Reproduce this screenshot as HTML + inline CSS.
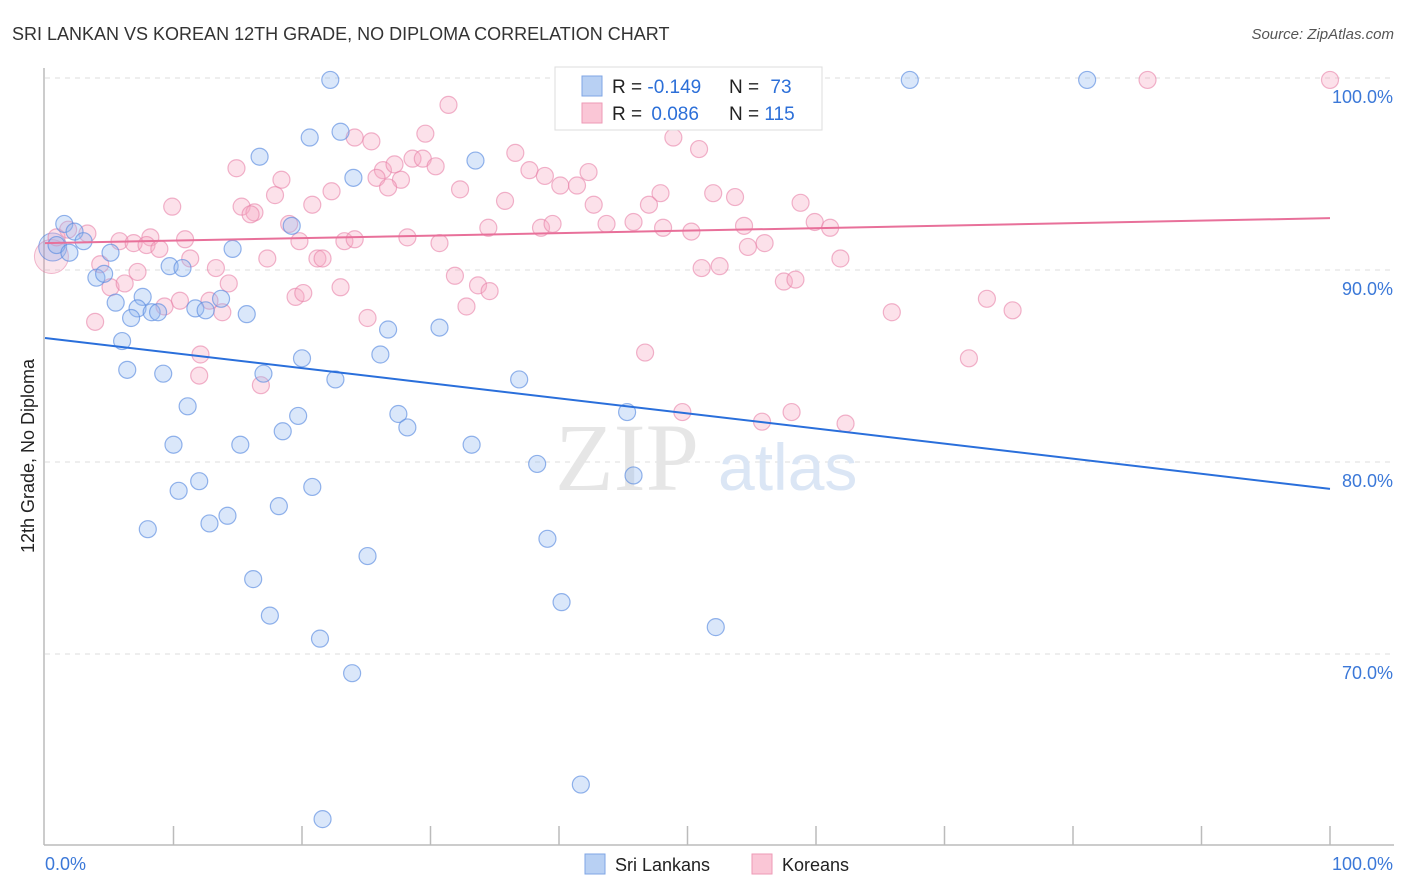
<!DOCTYPE html>
<html><head><meta charset="utf-8">
<style>
body{margin:0;background:#fff;font-family:"Liberation Sans",sans-serif;}
svg{display:block}
</style></head>
<body>
<svg id="chart" width="1406" height="892" xmlns="http://www.w3.org/2000/svg">
<text x="12" y="40" font-size="18" fill="#333">SRI LANKAN VS KOREAN 12TH GRADE, NO DIPLOMA CORRELATION CHART</text>
<text x="1394" y="39" font-size="15" fill="#555" font-style="italic" text-anchor="end">Source: ZipAtlas.com</text>
<g id="grid"></g>
<g id="axes"></g>
<text x="555" y="490" font-size="96" fill="#e6e6e6" font-family="Liberation Serif,serif">ZIP</text>
<text x="718" y="490" font-size="66" fill="#dbe6f5">atlas</text>
<g id="marks"></g>
<g id="trends"></g>
<text transform="translate(34,456) rotate(-90)" font-size="18" fill="#222" text-anchor="middle">12th Grade, No Diploma</text>
<g>
<rect x="555" y="67" width="267" height="63" fill="#fff" stroke="#ddd"/>
<rect x="582" y="76" width="20" height="20" fill="#b8d0f3" stroke="#7fa6e4"/>
<rect x="582" y="103" width="20" height="20" fill="#fac6d6" stroke="#ee9ab6"/>
<text x="612" y="93" font-size="19" fill="#222">R = <tspan fill="#2c6fd8">-0.149</tspan></text>
<text x="729" y="93" font-size="19" fill="#222">N = <tspan fill="#2c6fd8" dx="6">73</tspan></text>
<text x="612" y="120" font-size="19" fill="#222">R = <tspan fill="#2c6fd8" dx="4">0.086</tspan></text>
<text x="729" y="120" font-size="19" fill="#222">N = <tspan fill="#2c6fd8">115</tspan></text>
</g>
<g>
<rect x="585" y="854" width="20" height="20" fill="#b8d0f3" stroke="#7fa6e4"/>
<text x="615" y="871" font-size="18" fill="#222">Sri Lankans</text>
<rect x="752" y="854" width="20" height="20" fill="#fac6d6" stroke="#ee9ab6"/>
<text x="782" y="871" font-size="18" fill="#222">Koreans</text>
</g>
</svg>
<script>
const yTicks=[100,90,80,70];
const yTickLabels=["100.0%","90.0%","80.0%","70.0%"];
const xTickLabels=["0.0%","100.0%"];
const blueX=[22.2,67.3,81.1,20.6,23.0,33.5,16.7,24.0,1.5,2.3,0.9,3.0,1.9,5.1,4.0,4.6,9.7,10.7,14.6,19.2,7.6,5.5,7.2,6.7,8.3,8.8,11.7,12.5,13.7,15.7,26.7,30.7,6.0,6.4,9.2,17.0,20.0,22.6,26.1,36.9,11.1,19.7,27.5,28.2,18.5,10.0,15.2,33.2,45.3,38.3,45.8,12.0,10.4,20.8,12.8,14.2,18.2,8.0,25.1,39.1,16.2,17.5,21.4,40.2,52.2,23.9,41.7,21.6];
const blueY=[99.9,99.9,99.9,96.9,97.2,95.7,95.9,94.8,92.4,92.0,91.3,91.5,90.9,90.9,89.6,89.8,90.2,90.1,91.1,92.3,88.6,88.3,88.0,87.5,87.8,87.8,88.0,87.9,88.5,87.7,86.9,87.0,86.3,84.8,84.6,84.6,85.4,84.3,85.6,84.3,82.9,82.4,82.5,81.8,81.6,80.9,80.9,80.9,82.6,79.9,79.3,79.0,78.5,78.7,76.8,77.2,77.7,76.5,75.1,76.0,73.9,72.0,70.8,72.7,71.4,69.0,63.2,61.4];
const pinkX=[40.7,85.8,100,31.4,24.1,29.6,25.4,48.9,50.9,36.6,14.9,26.3,27.2,28.6,29.4,30.4,25.8,27.7,18.4,26.7,22.3,32.3,37.7,38.9,40.1,41.4,42.3,47.9,52.0,53.7,17.9,15.3,16.3,16.0,20.8,35.8,42.7,47.0,58.8,9.9,19.0,34.5,38.6,39.5,43.7,45.8,48.1,50.3,54.4,59.9,61.1,1.8,3.3,0.9,8.2,5.8,6.9,7.9,8.9,10.9,19.8,23.3,24.1,28.2,30.7,54.7,56.0,11.3,17.3,21.2,21.6,4.3,7.2,13.3,31.9,33.7,34.6,5.1,6.2,14.3,23.0,19.5,20.1,51.1,52.5,61.9,57.5,58.4,10.5,12.8,9.3,13.8,25.1,32.8,3.9,65.9,73.3,75.3,46.7,12.1,12.0,16.8,49.6,58.1,55.8,62.3,71.9];
const pinkY=[99.9,99.9,99.9,98.6,96.9,97.1,96.7,96.9,96.3,96.1,95.3,95.2,95.5,95.8,95.8,95.4,94.8,94.7,94.7,94.3,94.1,94.2,95.2,94.9,94.4,94.4,95.1,94.0,94.0,93.8,93.9,93.3,93.0,92.9,93.4,93.6,93.4,93.4,93.5,93.3,92.4,92.2,92.2,92.4,92.4,92.5,92.2,92.0,92.3,92.5,92.2,92.1,91.9,91.7,91.7,91.5,91.4,91.3,91.1,91.6,91.5,91.5,91.6,91.7,91.4,91.2,91.4,90.6,90.6,90.6,90.6,90.3,89.9,90.1,89.7,89.2,88.9,89.1,89.3,89.3,89.1,88.6,88.8,90.1,90.2,90.6,89.4,89.5,88.4,88.4,88.1,87.8,87.5,88.1,87.3,87.8,88.5,87.9,85.7,85.6,84.5,84.0,82.6,82.6,82.1,82.0,85.4];
const blueTrend=[86.46,78.6];
const pinkTrend=[91.4,92.7];

const NS="http://www.w3.org/2000/svg";
const X0=45,X1=1330;
function xs(v){return X0+(v/100)*(X1-X0);}
function ys(v){return 78+(100-v)*19.2;}
function mk(tag,attrs,parent){const e=document.createElementNS(NS,tag);for(const k in attrs)e.setAttribute(k,attrs[k]);parent.appendChild(e);return e;}
const grid=document.getElementById('grid'),axes=document.getElementById('axes'),marks=document.getElementById('marks'),trends=document.getElementById('trends');
yTicks.forEach((t,i)=>{
  const l=mk('line',{x1:45,x2:1394,y1:ys(t),y2:ys(t),stroke:'#dcdcdc','stroke-dasharray':'5,5'},grid);
  
  
  const tx=mk('text',{x:1393,y:ys(t)+25,'font-size':18,fill:'#3b78d8','text-anchor':'end'},grid);
  tx.textContent=yTickLabels[i];
  
  
});
const ax=mk('line',{x1:44,x2:1394,y1:845,y2:845,stroke:'#bbb','stroke-width':1.5},axes);


const ay=mk('line',{x1:44,x2:44,y1:68,y2:845,stroke:'#bbb','stroke-width':1.5},axes);


for(let i=1;i<=10;i++){
  const t=mk('line',{x1:xs(i*10),x2:xs(i*10),y1:826,y2:845,stroke:'#bbb','stroke-width':1.5},axes);
  
  
}
[[0,'start',45],[100,'end',1393]].forEach((d,i)=>{
  const t=mk('text',{x:d[2],y:870,'font-size':18,fill:'#3b78d8','text-anchor':d[1]},axes);
  t.textContent=xTickLabels[i];
  
  
});
// big cluster circles
const bp=mk('circle',{cx:xs(0.5),cy:ys(90.7),r:17,fill:'rgba(240,150,180,0.25)',stroke:'rgba(230,120,160,0.5)'},marks);


const bb=mk('circle',{cx:xs(0.6),cy:ys(91.2),r:14,fill:'rgba(110,150,230,0.25)',stroke:'rgba(70,120,220,0.55)'},marks);


pinkX.forEach((v,i)=>{
  const c=mk('circle',{cx:xs(v),cy:ys(pinkY[i]),r:8.5,fill:'rgba(245,170,195,0.35)',stroke:'rgba(232,130,168,0.6)','stroke-width':1.2},marks);
  
  
});
blueX.forEach((v,i)=>{
  const c=mk('circle',{cx:xs(v),cy:ys(blueY[i]),r:8.5,fill:'rgba(150,185,240,0.35)',stroke:'rgba(90,140,225,0.65)','stroke-width':1.2},marks);
  
  
});
const bl=mk('line',{x1:xs(0),x2:xs(100),y1:ys(blueTrend[0]),y2:ys(blueTrend[1]),stroke:'#2a6fdb','stroke-width':2},trends);


const pl=mk('line',{x1:xs(0),x2:xs(100),y1:ys(pinkTrend[0]),y2:ys(pinkTrend[1]),stroke:'#e8709a','stroke-width':2},trends);


</script>
</body></html>
